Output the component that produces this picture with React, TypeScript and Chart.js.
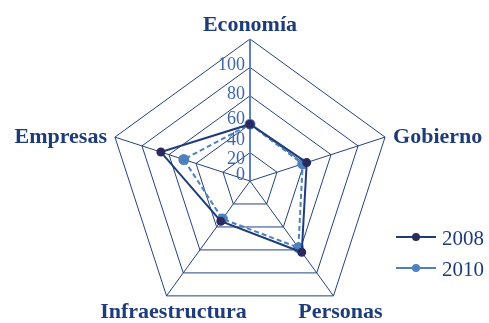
import React, { useEffect, useRef } from 'react';
import { Chart, registerables } from 'chart.js';

Chart.register(...registerables);

const categories = ['Economía', 'Gobierno', 'Personas', 'Infraestructura', 'Empresas'];
const seriesNames = ['2008', '2010'];
const values2008 = [40, 42, 62, 35, 66];
const values2010 = [40, 39, 58, 33, 49];
const tickValues = [0, 20, 40, 60, 80, 100];

const NAVY = '#1f3c7a';
const GRID = '#24427f';
const LIGHT = '#4f81bd';
const DARK_POINT = '#2b2a5e';
const SERIF = '"Liberation Serif", "Times New Roman", serif';

const labelsPlugin = {
  id: 'customLabels',
  beforeDatasetsDraw(chart: any) {
    const scale = chart.scales.r;
    const ctx = chart.ctx;
    const R = scale.drawingArea;
    ctx.save();
    // tick labels along the vertical axis
    ctx.font = `18px ${SERIF}`;
    ctx.fillStyle = '#3f66a6';
    ctx.textAlign = 'right';
    ctx.textBaseline = 'middle';
    tickValues.forEach((v) => {
      const u = scale.getDistanceFromCenterForValue(v) / R;
      const d = R * (0.042 + 0.493 * u + 0.278 * u * u);
      ctx.fillText(String(v), scale.xCenter - 5, scale.yCenter - d);
    });
    ctx.restore();
  },
  afterDraw(chart: any) {
    const scale = chart.scales.r;
    const ctx = chart.ctx;
    ctx.save();
    // point labels
    ctx.font = `bold 22px ${SERIF}`;
    ctx.fillStyle = NAVY;
    ctx.textBaseline = 'alphabetic';
    chart.data.labels.forEach((lab: string, i: number) => {
      const p = scale.getPointPosition(i, scale.drawingArea);
      const dx = p.x - scale.xCenter;
      if (Math.abs(dx) < 1) {
        ctx.textAlign = 'center';
        ctx.fillText(lab, p.x, p.y - 8);
      } else if (p.y < scale.yCenter) {
        ctx.textAlign = dx > 0 ? 'left' : 'right';
        ctx.fillText(lab, p.x + (dx > 0 ? 8 : -8), p.y + 6);
      } else {
        ctx.textAlign = 'center';
        ctx.fillText(lab, p.x + 7, p.y + 22);
      }
    });
    // legend
    const x0 = chart.width - 93;
    const rows = [237, 268];
    chart.data.datasets.forEach((ds: any, i: number) => {
      const y = rows[i];
      ctx.strokeStyle = ds.borderColor;
      ctx.lineWidth = 2;
      ctx.setLineDash([]);
      ctx.beginPath();
      ctx.moveTo(x0, y);
      ctx.lineTo(x0 + 40, y);
      ctx.stroke();
      ctx.fillStyle = ds.pointBackgroundColor;
      ctx.beginPath();
      ctx.arc(x0 + 20, y, 4, 0, Math.PI * 2);
      ctx.fill();
      ctx.font = `21px ${SERIF}`;
      ctx.fillStyle = NAVY;
      ctx.textAlign = 'left';
      ctx.textBaseline = 'middle';
      ctx.fillText(ds.label, x0 + 46, y + 2);
    });
    ctx.restore();
  },
};

export default function App() {
  const ref = useRef<HTMLCanvasElement>(null);
  useEffect(() => {
    document.body.style.margin = '0';
    const chart = new Chart(ref.current as HTMLCanvasElement, {
      type: 'radar',
      data: {
        labels: categories,
        datasets: [
          {
            label: seriesNames[0],
            data: values2008,
            borderColor: NAVY,
            borderWidth: 2,
            pointBackgroundColor: DARK_POINT,
            pointBorderColor: DARK_POINT,
            pointRadius: 3.5,
            fill: false,
          },
          {
            label: seriesNames[1],
            data: values2010,
            borderColor: LIGHT,
            borderWidth: 2,
            borderDash: [5, 3],
            pointBackgroundColor: LIGHT,
            pointBorderColor: LIGHT,
            pointRadius: 4.5,
            fill: false,
          },
        ],
      },
      options: {
        animation: false,
        responsive: false,
        layout: { padding: { left: 106, right: 95, top: 39, bottom: -4 } },
        plugins: { legend: { display: false }, tooltip: { enabled: false } },
        scales: {
          r: {
            min: 0,
            max: 100,
            ticks: { display: false, stepSize: 20 },
            pointLabels: { display: false },
            grid: { color: GRID, lineWidth: 1 },
            angleLines: {
              color: (c: any) => (c.index === 0 ? '#5b82c0' : GRID),
              lineWidth: (c: any) => (c.index === 0 ? 2 : 1),
            },
          },
        },
      },
      plugins: [labelsPlugin],
    });
    return () => chart.destroy();
  }, []);
  return (
    <div style={{ width: 489, height: 323 }}>
      <canvas ref={ref} width={489} height={323} />
    </div>
  );
}
